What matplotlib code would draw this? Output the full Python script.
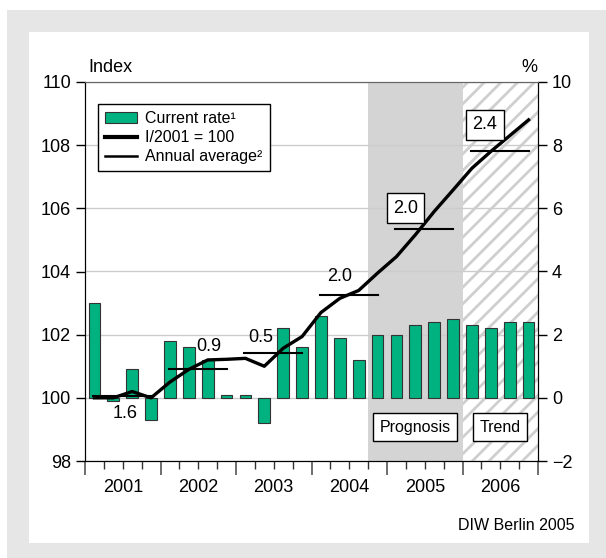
import numpy as np
import matplotlib
matplotlib.use("Agg")
import matplotlib.pyplot as plt
from matplotlib.patches import Rectangle, Patch
from matplotlib.lines import Line2D
from matplotlib.transforms import blended_transform_factory

plt.rcParams['font.family'] = ['Liberation Sans', 'DejaVu Sans']
plt.rcParams['hatch.color'] = '#cfcfcf'
plt.rcParams['hatch.linewidth'] = 2.0

# quarterly data 2001Q1 .. 2006Q4
years = ['2001', '2002', '2003', '2004', '2005', '2006']
rate = [3.0, -0.1, 0.9, -0.7, 1.8, 1.6, 1.2, 0.1,
        0.1, -0.8, 2.2, 1.6, 2.6, 1.9, 1.2, 2.0,
        2.0, 2.3, 2.4, 2.5, 2.3, 2.2, 2.4, 2.4]
index = [100.0, 100.0, 100.2, 100.0, 100.5, 100.9, 101.2, 101.22,
         101.25, 101.0, 101.57, 101.94, 102.7, 103.15, 103.4, 103.95,
         104.47, 105.16, 105.9, 106.58, 107.27, 107.8, 108.3, 108.8]
annual_avg = [100.05, 100.92, 101.43, 103.25, 105.33, 107.83]
annual_lbl = ['1.6', '0.9', '0.5', '2.0', '2.0', '2.4']

fig = plt.figure(figsize=(6.06, 5.58), dpi=100)
fig.patches.append(Rectangle((7/606, 0), 599/606, 548/558, transform=fig.transFigure,
                             facecolor='#e6e6e6', edgecolor='none', zorder=-2))
fig.patches.append(Rectangle((29/606, 15/558), 560/606, 511/558, transform=fig.transFigure,
                             facecolor='white', edgecolor='none', zorder=-1))

ax = fig.add_axes([85/606, 97/558, 453/606, 379/558])
ax2 = ax.twinx()
ax.set_zorder(ax2.get_zorder() + 1)
ax.patch.set_visible(False)

n = len(rate)
x = np.arange(n)

# background: prognosis and trend periods
ax2.axvspan(14.5, 19.5, facecolor='#d4d4d4', edgecolor='none', zorder=0)
ax2.axvspan(19.5, 23.5, facecolor='white', edgecolor='#cfcfcf', hatch='//', lw=0, zorder=0)

ax2.set_ylim(-2, 10)
ax2.set_yticks(np.arange(-2, 11, 2))
ax2.grid(axis='y', color='#cccccc', lw=1, zorder=0.5)
ax2.set_axisbelow(True)
ax2.bar(x, rate, width=0.62, color='#00b280', edgecolor='#333333', lw=0.8, zorder=2)

ax2.text(17.0, -0.93, 'Prognosis', ha='center', va='center', fontsize=11.5, zorder=3,
         bbox=dict(boxstyle='square,pad=0.4', fc='white', ec='black', lw=1))
ax2.text(21.5, -0.93, 'Trend', ha='center', va='center', fontsize=11.5, zorder=3,
         bbox=dict(boxstyle='square,pad=0.4', fc='white', ec='black', lw=1))

ax.plot(x, index, color='black', lw=2.4, solid_joinstyle='round', zorder=4)
for k, v in enumerate(annual_avg):
    ax.plot([4*k - 0.05, 4*k + 3.0], [v, v], color='black', lw=1.5, zorder=4)

lbl_pos = [(1.62, 99.49), (6.07, 101.62), (8.81, 101.9), (12.98, 103.84),
           (16.48, 106.01), (20.69, 108.64)]
for k, (s, (px, py)) in enumerate(zip(annual_lbl, lbl_pos)):
    if k >= 4:
        ax.text(px, py, s, ha='center', va='center', fontsize=13, zorder=5,
                bbox=dict(boxstyle='square,pad=0.35', fc='white', ec='black', lw=1))
    else:
        ax.text(px, py, s, ha='center', va='center', fontsize=13, zorder=5)

ax.set_ylim(98, 110)
ax.set_yticks(np.arange(98, 111, 2))
ax.set_xlim(-0.5, n - 0.5)
ax.set_xticks(np.arange(-0.5, n, 4))
ax.set_xticks(np.arange(-0.5, n, 1), minor=True)
ax.set_xticklabels([])
ax.tick_params(axis='x', which='major', direction='out', length=10, width=1.2, color='#555555')
ax.tick_params(axis='x', which='minor', direction='out', length=6, width=1, color='#333333')
ax.tick_params(axis='y', direction='out', length=6.5, width=1, labelsize=13)
ax2.tick_params(axis='y', direction='out', length=6.5, width=1, labelsize=13)

trans = blended_transform_factory(ax.transData, ax.transAxes)
for k, yr in enumerate(years):
    ax.text(4*k + 1.5, -0.069, yr, transform=trans, ha='center', va='center', fontsize=13)

for a in (ax, ax2):
    a.spines['top'].set_color('#666666')
    a.spines['left'].set_color('black')
    a.spines['right'].set_color('black')
    a.spines['bottom'].set_color('black')

handles = [Patch(facecolor='#00b280', edgecolor='#333333', lw=0.8),
           Line2D([], [], color='black', lw=3),
           Line2D([], [], color='black', lw=1.8)]
leg = ax.legend(handles, ['Current rate¹', 'I/2001 = 100', 'Annual average²'],
                loc='upper left', bbox_to_anchor=(0.0287, 0.942), borderaxespad=0,
                fontsize=11.5, frameon=True, fancybox=False, framealpha=1,
                edgecolor='black', handlelength=2.0, handletextpad=0.5,
                labelspacing=0.25, borderpad=0.45)
leg.get_frame().set_linewidth(1)
leg.set_zorder(6)

fig.text(88/606, 1 - 68/558, 'Index', ha='left', va='center', fontsize=13)
fig.text(529/606, 1 - 68/558, '%', ha='center', va='center', fontsize=13)
fig.text(575/606, 1 - 525/558, 'DIW Berlin 2005', ha='right', va='center', fontsize=11.5)

fig.savefig('out.png', dpi=100, facecolor='white')
